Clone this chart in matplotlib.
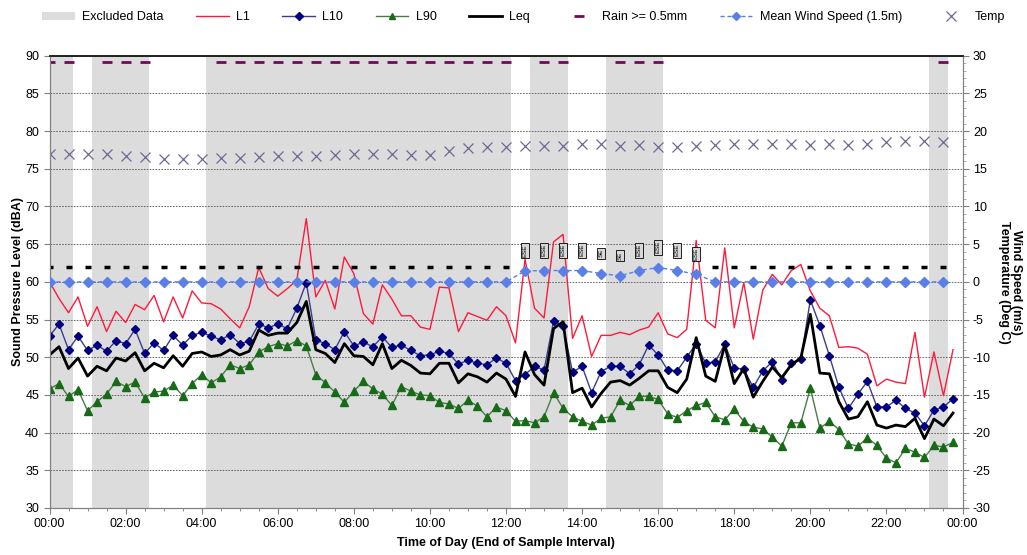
import matplotlib
matplotlib.use("Agg")
import matplotlib.pyplot as plt
import numpy as np
from matplotlib.lines import Line2D
from matplotlib.patches import Patch
from matplotlib.ticker import MultipleLocator, FuncFormatter

plt.rcParams["font.family"] = ["Liberation Sans", "DejaVu Sans"]
plt.rcParams["font.size"] = 9
plt.rcParams["axes.unicode_minus"] = False

# 15-minute noise samples, 00:00 .. 23:45 (end of interval)
times = np.arange(96) * 0.25

l1 = [60.0, 57.8, 55.9, 58.0, 54.1, 56.7, 53.4, 56.1, 54.6, 57.0,
      56.3, 58.2, 54.7, 58.0, 55.2, 58.8, 57.2, 57.1, 56.4, 55.1,
      53.9, 56.7, 61.9, 59.1, 58.1, 59.1, 60.2, 68.4, 58.0, 60.2,
      56.4, 63.3, 61.1, 55.8, 54.4, 59.6, 57.7, 55.5, 55.5, 54.0,
      53.7, 59.3, 59.2, 53.4, 55.9, 55.4, 54.9, 56.7, 55.5, 51.9,
      63.0, 56.5, 55.2, 65.3, 66.3, 52.5, 55.5, 50.1, 52.9, 52.9,
      53.3, 53.0, 53.6, 54.0, 55.9, 53.1, 52.6, 53.7, 65.5, 54.9,
      53.9, 64.5, 53.9, 59.9, 52.4, 58.9, 61.0, 59.6, 61.5, 62.3,
      58.8, 56.5, 55.5, 51.3, 51.4, 51.2, 50.4, 46.2, 47.1, 46.7,
      46.5, 53.3, 44.7, 50.7, 44.9, 51.0]

l10 = [52.8, 54.4, 51.0, 52.8, 50.9, 51.6, 50.8, 52.2, 51.8, 53.7,
       50.5, 51.9, 50.9, 52.9, 51.6, 52.9, 53.3, 52.8, 52.3, 53.0,
       51.8, 52.1, 54.4, 53.9, 54.4, 53.8, 56.5, 59.9, 52.3, 51.8,
       51.0, 53.4, 51.5, 52.0, 51.4, 52.7, 51.3, 51.6, 50.9, 50.2,
       50.3, 50.8, 50.5, 49.1, 49.6, 49.2, 49.0, 49.9, 49.2, 46.9,
       47.7, 48.8, 48.3, 54.8, 54.2, 48.0, 48.8, 45.3, 48.1, 48.8,
       48.8, 47.8, 49.0, 51.6, 50.3, 48.3, 48.2, 50.0, 51.8, 49.2,
       49.4, 51.7, 48.6, 48.4, 46.0, 48.2, 49.4, 47.0, 49.2, 49.7,
       57.6, 54.2, 50.2, 46.0, 43.2, 45.1, 46.8, 43.4, 43.4, 44.3,
       43.2, 42.6, 40.9, 43.0, 43.4, 44.5]

l90 = [45.8, 46.5, 44.8, 45.7, 42.9, 44.1, 45.1, 46.8, 46.1, 46.7,
       44.6, 45.4, 45.5, 46.3, 44.9, 46.5, 47.7, 46.6, 47.4, 49.0,
       48.5, 49.0, 50.7, 51.4, 51.8, 51.5, 52.2, 51.5, 47.7, 46.6,
       45.4, 44.0, 45.5, 46.8, 45.8, 45.1, 43.6, 46.1, 45.5, 45.0,
       44.9, 44.0, 43.8, 43.2, 44.3, 43.5, 42.1, 43.4, 42.9, 41.5,
       41.6, 41.3, 42.1, 45.3, 43.2, 42.1, 41.5, 41.0, 41.9, 42.1,
       44.3, 43.6, 44.8, 44.8, 44.4, 42.5, 42.0, 42.9, 43.6, 44.0,
       42.1, 41.7, 43.1, 41.5, 40.7, 40.5, 39.4, 38.2, 41.3, 41.3,
       45.9, 40.6, 41.5, 40.4, 38.5, 38.2, 39.3, 38.3, 36.6, 36.0,
       37.9, 37.4, 36.7, 38.3, 38.1, 38.7]

leq = [50.3, 51.4, 48.5, 49.9, 47.5, 48.8, 48.2, 49.9, 49.5, 50.6,
       48.2, 49.2, 48.6, 50.2, 48.8, 50.5, 50.7, 50.1, 50.3, 51.0,
       50.3, 50.8, 53.6, 52.9, 53.2, 53.2, 54.6, 57.4, 51.0, 50.5,
       49.3, 51.8, 50.2, 50.1, 49.0, 51.8, 48.5, 49.6, 48.9, 47.9,
       47.8, 49.2, 49.2, 46.6, 47.8, 47.4, 46.7, 47.9, 47.1, 44.8,
       50.7, 47.7, 46.3, 53.8, 54.7, 45.3, 45.9, 43.4, 45.2, 46.7,
       46.9, 46.3, 47.2, 48.2, 48.2, 46.0, 45.3, 47.1, 52.6, 47.5,
       46.8, 51.6, 46.5, 48.5, 44.7, 46.8, 48.7, 47.3, 49.0, 49.9,
       55.7, 47.9, 47.8, 44.1, 41.8, 42.1, 44.1, 41.0, 40.6, 41.0,
       40.8, 41.9, 39.2, 41.8, 40.9, 42.6]

# 30-minute weather samples, 00:00 .. 23:30
weather_times = np.arange(48) * 0.5

wind = [0, 0, 0, 0, 0, 0, 0, 0, 0, 0, 0, 0,
        0, 0, 0, 0, 0, 0, 0, 0, 0, 0, 0, 0,
        0, 1.45, 1.5, 1.5, 1.5, 1.1, 0.8, 1.5, 1.9, 1.5, 1.0, 0,
        0, 0, 0, 0, 0, 0, 0, 0, 0, 0, 0, 0]

wind_dir = ["", "", "", "", "", "", "", "", "", "", "", "",
            "", "", "", "", "", "", "", "", "", "", "", "",
            "", "ESE", "ESE", "ESE", "ESE", "SE", "SE", "ESE", "ESE", "ESE", "ESE", "",
            "", "", "", "", "", "", "", "", "", "", "", ""]

temp = [16.9, 16.9, 16.9, 16.9, 16.7, 16.5, 16.3, 16.3, 16.3, 16.4, 16.4, 16.5,
        16.7, 16.7, 16.7, 16.8, 17.0, 16.9, 16.9, 16.8, 16.8, 17.3, 17.8, 17.9,
        17.9, 18.0, 18.0, 18.0, 18.3, 18.3, 18.0, 18.2, 17.9, 17.9, 18.0, 18.2,
        18.3, 18.3, 18.3, 18.3, 18.2, 18.3, 18.2, 18.3, 18.5, 18.65, 18.65, 18.5]

rain_times = ["00:00", "00:30", "01:30", "02:00", "02:30",
              "04:30", "05:00", "05:30", "06:00", "06:30", "07:00", "07:30", "08:00",
              "08:30", "09:00", "09:30", "10:00", "10:30", "11:00", "11:30", "12:00",
              "13:00", "13:30", "15:00", "15:30", "16:00", "23:30"]

excluded_start = ["00:00", "01:15", "04:15", "12:45", "14:45", "23:15"]
excluded_end = ["00:30", "02:30", "12:00", "13:30", "16:00", "23:30"]


def to_hours(s):
    h, m = s.split(":")
    return int(h) + int(m) / 60.0


RED = "#ff1a3c"
NAVY = "#000080"
NAVY_LINE = "#3c3c90"
GREEN = "#176b17"
GREEN_LINE = "#4a7a4a"
WIND = "#5a7fe6"
TEMP = "#6a6a96"
RAIN = "#6e0a5a"
BAND = "#dcdcdc"

fig = plt.figure(figsize=(10.27, 5.55), dpi=100)
ax = fig.add_axes([0.0482, 0.0847, 0.8890, 0.8149])
ax2 = ax.twinx()

half = 0.125
for s, e in zip(excluded_start, excluded_end):
    ax.axvspan(to_hours(s) - half, to_hours(e) + half, color=BAND, lw=0, zorder=0.2)

ax.plot(times, l1, color=RED, lw=1.0, zorder=3)
ax.plot(times, l10, color=NAVY_LINE, lw=1.0, marker="D", ms=4.5,
        mfc=NAVY, mec=NAVY, zorder=4)
ax.plot(times, l90, color=GREEN_LINE, lw=1.0, marker="^", ms=6,
        mfc=GREEN, mec=GREEN, zorder=4)
ax.plot(times, leq, color="black", lw=2.0, zorder=5)

ax2.plot(weather_times, wind, color=WIND, lw=1.0, ls=(0, (3, 2)), marker="D",
         ms=5, mfc=WIND, mec=WIND, zorder=3)
ax2.plot(weather_times, temp, ls="none", marker="x", ms=6.5, mew=0.9, color=TEMP)

rain_x = [to_hours(t) for t in rain_times]
ax2.plot(rain_x, [29.2] * len(rain_x), ls="none", marker="_", ms=7, mew=2.0, color=RAIN)

# wind direction labels (calm shown as a small black box)
for t, w, d in zip(weather_times, wind, wind_dir):
    if d:
        ax2.text(t, w + 2.7, d, rotation=90, fontsize=4.5, ha="center", va="center",
                 bbox=dict(boxstyle="square,pad=0.2", fc="#d8d8d8", ec="black", lw=0.6))
    else:
        ax2.plot(t, w + 2.0, ls="none", marker="_", ms=4, mew=2.5, color="black")

ax.set_xlim(0, 24)
ax.set_ylim(30, 90)
ax2.set_ylim(-30, 30)

ax.xaxis.set_major_locator(MultipleLocator(2))
ax.xaxis.set_minor_locator(MultipleLocator(0.5))
ax.xaxis.set_major_formatter(FuncFormatter(lambda x, p: f"{int(round(x)) % 24:02d}:00"))
ax.yaxis.set_major_locator(MultipleLocator(5))
ax2.yaxis.set_major_locator(MultipleLocator(5))
ax2.yaxis.set_minor_locator(MultipleLocator(1))

ax.set_axisbelow(True)
ax.yaxis.grid(True, ls=(0, (2, 1.5)), color="#555555", lw=0.6)

ax.tick_params(axis="both", direction="out", length=4, color="#808080", labelsize=9)
ax.tick_params(axis="x", which="minor", direction="out", length=2.5, color="#808080")
ax2.tick_params(axis="y", which="major", direction="out", length=4, color="#808080", labelsize=9)
ax2.tick_params(axis="y", which="minor", direction="out", length=2, color="#a0a0a0")

for a in (ax, ax2):
    for side in ("left", "right", "bottom"):
        a.spines[side].set_color("#808080")
    a.spines["top"].set_color("#202020")
    a.spines["top"].set_linewidth(1.2)

ax.set_xlabel("Time of Day (End of Sample Interval)", fontweight="bold", fontsize=9, labelpad=5)
ax.set_ylabel("Sound Pressure Level (dBA)", fontweight="bold", fontsize=9, labelpad=1)
fig.text(0.9835, 0.492, "Wind Speed (m/s)\nTemperature (Deg C)", fontweight="bold",
         fontsize=9, rotation=270, ha="center", va="center", linespacing=1.0,
         multialignment="center")

handles = [
    Patch(facecolor=BAND, edgecolor="none", label="Excluded Data"),
    Line2D([], [], color=RED, lw=1.0, label="L1"),
    Line2D([], [], color=NAVY_LINE, lw=1.0, marker="D", ms=4, mfc=NAVY, mec=NAVY, label="L10"),
    Line2D([], [], color=GREEN_LINE, lw=1.0, marker="^", ms=5, mfc=GREEN, mec=GREEN, label="L90"),
    Line2D([], [], color="black", lw=2.0, label="Leq"),
    Line2D([], [], ls="none", marker="_", ms=7, mew=2.0, color=RAIN, label="Rain >= 0.5mm"),
    Line2D([], [], color=WIND, lw=1.0, ls=(0, (3, 2)), marker="D", ms=4, mfc=WIND, mec=WIND,
           label="Mean Wind Speed (1.5m)"),
    Line2D([], [], ls="none", marker="x", ms=6.5, mew=0.9, color=TEMP, label="Temp"),
]
fig.legend(handles=handles, ncol=8, loc="upper left", bbox_to_anchor=(0.03, 1.0),
           frameon=False, fontsize=9, handlelength=2.6, columnspacing=2.6,
           handletextpad=0.6)

fig.savefig("out.png", dpi=100)
